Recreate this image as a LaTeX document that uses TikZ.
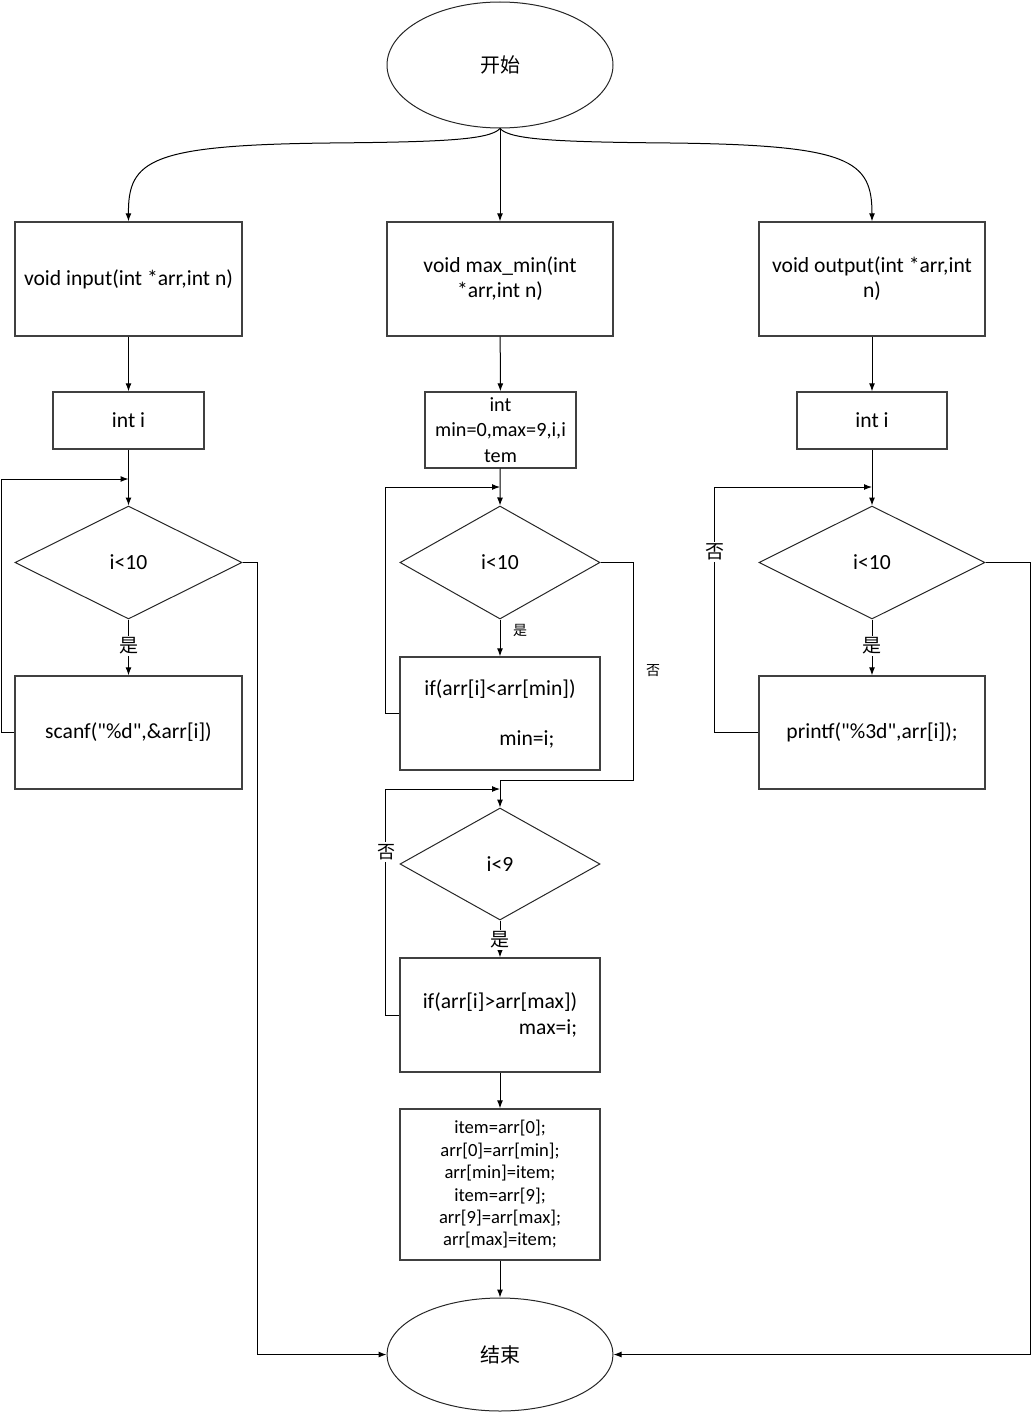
\documentclass[tikz,border=0pt]{standalone}
\usepackage{fontspec}
\setmainfont{Carlito}
\newfontfamily\calfont{Carlito}
\newfontfamily\cjk{Noto Sans CJK SC}
\usetikzlibrary{shapes.geometric,arrows.meta}
\begin{document}
\begin{tikzpicture}[x=0.5pt,y=-0.5pt,
  txt/.style={font=\calfont\fontsize{10.8}{11.2}\selectfont},
  box/.style={draw=black!75, line width=0.7pt, inner sep=0pt, align=center, txt},
  dia/.style={draw=black!85, line width=0.5pt, diamond, inner sep=0pt, txt},
  oval/.style={draw=black!85, line width=0.5pt, ellipse, inner sep=0pt, font=\cjk\fontsize{10}{12}\selectfont},
  arr/.style={draw, line width=0.5pt, -{Latex[length=4pt,width=3pt]}},
  lab/.style={fill=white, inner sep=1pt, font=\cjk\fontsize{9.5}{11}\selectfont},
  slab/.style={inner sep=0pt, font=\cjk\fontsize{7}{8}\selectfont}]
\useasboundingbox (0,0) rectangle (1032,1413);

% start / end
\node[oval, minimum width=113pt, minimum height=63pt] (start) at (500,65) {开始};
\node[oval, minimum width=113pt, minimum height=56.5pt] (end) at (500,1354.5) {结束};

% left column
\node[box, minimum width=113.5pt, minimum height=57pt] (in1) at (128.5,279) {void input(int *arr,int n)};
\node[box, minimum width=75.5pt, minimum height=28.5pt] (in2) at (128.5,420.5) {int i};
\node[dia, minimum width=113.5pt, minimum height=56.5pt] (ind) at (128.5,562.5) {i<10};
\node[box, minimum width=113.5pt, minimum height=56.5pt] (in3) at (128.5,732.5) {scanf("\%d",\&arr[i])};
\coordinate (inj) at (128.5,479);

% middle column
\node[box, minimum width=113pt, minimum height=57pt] (mm1) at (500,279) {void max\_min(int\\[1.3pt]*arr,int n)};
\node[box, minimum width=75.5pt, minimum height=38pt, font=\calfont\fontsize{10.1}{12.75}\selectfont] (mm2) at (500.5,430) {int\\min=0,max=9,i,i\\tem};
\node[dia, minimum width=100pt, minimum height=56.5pt] (mmd1) at (500,562.5) {i<10};
\node[box, minimum width=100pt, minimum height=56.5pt, align=left] (mm3) at (500,713.5) {if(arr[i]<arr[min])\\[13.8pt]\hspace*{37.5pt}min=i;};
\node[dia, minimum width=100pt, minimum height=56pt] (mmd2) at (500,864) {i<9};
\node[box, minimum width=100pt, minimum height=57pt, align=right, font=\calfont\fontsize{10.8}{13}\selectfont] (mm4) at (500,1015) {if(arr[i]>arr[max])\\max=i;};
\node[box, minimum width=100pt, minimum height=75.5pt, font=\calfont\fontsize{9.3}{11.2}\selectfont] (mm5) at (500,1184.5) {item=arr[0];\\arr[0]=arr[min];\\arr[min]=item;\\item=arr[9];\\arr[9]=arr[max];\\arr[max]=item;};
\coordinate (mmj1) at (500,487);
\coordinate (mmj2) at (500,780);
\coordinate (mmj3) at (500,789);

% right column
\node[box, minimum width=113pt, minimum height=57pt] (out1) at (872,279) {void output(int *arr,int\\[1.3pt]n)};
\node[box, minimum width=75pt, minimum height=28.5pt] (out2) at (872,420.5) {int i};
\node[dia, minimum width=113pt, minimum height=56.5pt] (outd) at (872,562.5) {i<10};
\node[box, minimum width=113pt, minimum height=56.5pt] (out3) at (872,732.5) {printf("\%3d",arr[i]);};
\coordinate (outj) at (872,487);

% top connectors
\draw[arr] (start.south) .. controls (490,140) and (440,142) .. (330,143) .. controls (150,145) and (128,160) .. (in1.north);
\draw[arr] (start.south) .. controls (510,140) and (560,142) .. (670,143) .. controls (850,145) and (872,160) .. (out1.north);
\draw[arr] (start.south) -- (mm1.north);

% left flow
\draw[arr] (in1) -- (in2);
\draw[arr] (in2) -- (ind.north);
\draw[arr] (ind.south) -- (in3.north);
\node[lab] at (128.5,646) {是};
\draw[arr] (in3.west) -- ++(-13,0) |- (inj);
\draw[arr] (ind.east) -- ++(15,0) |- (end.west);

% middle flow
\draw[arr] (mm1) -- (mm2);
\draw[arr] (mm2) -- (mmd1.north);
\draw[arr] (mmd1.south) -- (mm3.north);
\node[slab] at (520,630) {是};
\draw[arr] (mm3.west) -- ++(-14,0) |- (mmj1);
\draw[arr] (mmd1.east) -- ++(33,0) |- (mmj2) -- (mmd2.north);
\node[slab] at (653,671) {否};
\draw[arr] (mmd2.south) -- (mm4.north);
\node[lab] at (500,940) {是};
\draw[arr] (mm4.west) -- ++(-14,0) |- (mmj3);
\node[lab, font=\cjk\fontsize{9}{11}\selectfont] at (386,852) {否};
\draw[arr] (mm4) -- (mm5);
\draw[arr] (mm5) -- (end);

% right flow
\draw[arr] (out1) -- (out2);
\draw[arr] (out2) -- (outd.north);
\draw[arr] (outd.south) -- (out3.north);
\node[lab] at (872,646) {是};
\draw[arr] (out3.west) -- ++(-44,0) |- (outj);
\node[lab, font=\cjk\fontsize{9.5}{11}\selectfont] at (715,552) {否};
\draw[arr] (outd.east) -- ++(45,0) |- (end.east);
\end{tikzpicture}
\end{document}
